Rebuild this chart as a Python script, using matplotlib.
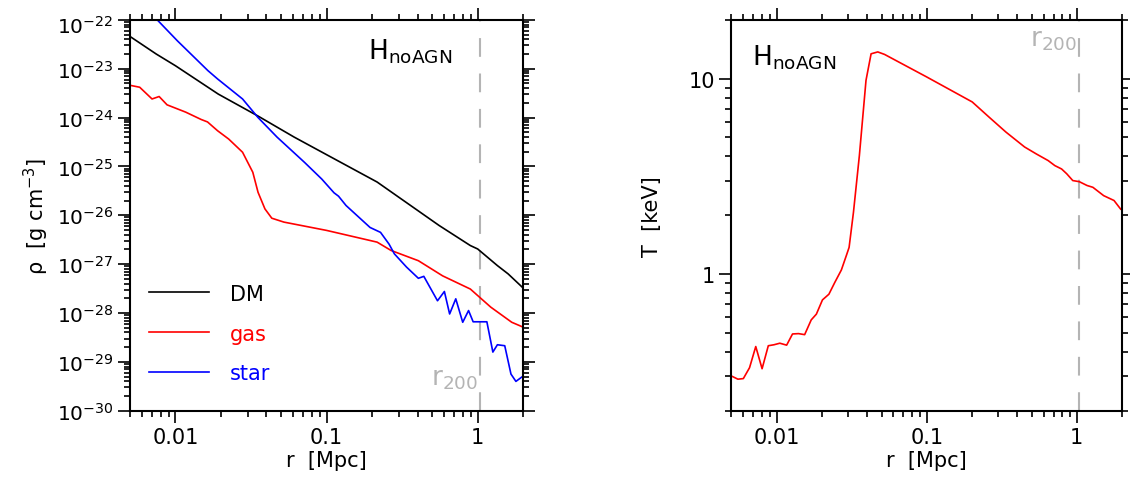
import numpy as np
import matplotlib
matplotlib.use('Agg')
import matplotlib.pyplot as plt
import matplotlib.transforms as mtransforms
from matplotlib.ticker import LogLocator, FixedLocator, FuncFormatter, NullFormatter

plt.rcParams['font.family'] = ['DejaVu Sans']
plt.rcParams['mathtext.default'] = 'regular'

# radios del perfil de densidad [Mpc] y log10(rho) [g cm^-3]
r_dm = [0.005, 0.00746, 0.01, 0.0192, 0.0352, 0.061, 0.1, 0.216, 0.556, 0.894, 1.0, 1.35, 1.59, 2.0]
logrho_dm = [-22.34, -22.70, -22.94, -23.52, -23.97, -24.40, -24.76, -25.32, -26.21, -26.62, -26.69, -27.03, -27.20, -27.49]

r_gas = [0.005, 0.0058, 0.0070, 0.0078, 0.0088, 0.0117, 0.0148, 0.0163, 0.019, 0.0225, 0.0278, 0.0325,
         0.0352, 0.0391, 0.0434, 0.0522, 0.1, 0.216, 0.267, 0.405, 0.586, 0.894, 1.22, 1.68, 2.0]
logrho_gas = [-23.34, -23.38, -23.62, -23.57, -23.74, -23.89, -24.04, -24.09, -24.27, -24.44, -24.71, -25.12,
              -25.53, -25.87, -26.06, -26.14, -26.31, -26.55, -26.72, -26.93, -27.24, -27.51, -27.88, -28.19, -28.29]

r_star = [0.00757, 0.0103, 0.0164, 0.019, 0.0278, 0.0352, 0.047, 0.0716, 0.093, 0.112, 0.12, 0.1345,
          0.194, 0.2275, 0.259, 0.281, 0.338, 0.405, 0.44, 0.542, 0.602, 0.652, 0.716, 0.796, 0.87,
          0.933, 1.15, 1.26, 1.35, 1.51, 1.66, 1.79, 2.0]
logrho_star = [-22.0, -22.43, -23.04, -23.21, -23.62, -24.0, -24.40, -24.92, -25.26, -25.54, -25.61, -25.80,
               -26.25, -26.35, -26.59, -26.79, -27.06, -27.29, -27.25, -27.75, -27.56, -28.02, -27.71, -28.19, -27.95,
               -28.18, -28.18, -28.80, -28.65, -28.67, -29.25, -29.40, -29.29]

# perfil de temperatura [keV]
r_T = [0.005, 0.00552, 0.006, 0.0066, 0.00726, 0.0080, 0.0088, 0.0096, 0.0105, 0.01166, 0.01276, 0.014,
       0.01537, 0.017, 0.0184, 0.0202, 0.0223, 0.0244, 0.027, 0.0292, 0.0304, 0.0325, 0.0356, 0.0394,
       0.0426, 0.0472, 0.0524, 0.1, 0.201, 0.26, 0.337, 0.449, 0.537, 0.644, 0.714, 0.792, 0.857, 0.94,
       1.04, 1.17, 1.28, 1.51, 1.77, 1.96]
T = [0.301, 0.29, 0.292, 0.332, 0.426, 0.328, 0.43, 0.435, 0.443, 0.433, 0.494, 0.496,
     0.49, 0.583, 0.624, 0.738, 0.789, 0.906, 1.05, 1.25, 1.37, 2.07, 4.05, 9.8,
     13.4, 13.7, 13.3, 10.2, 7.6, 6.36, 5.33, 4.47, 4.12, 3.81, 3.59, 3.45, 3.26, 3.01,
     2.97, 2.84, 2.78, 2.52, 2.38, 2.15]

exponentes = [-30, -29, -28, -27, -26, -25, -24, -23, -22]
r200 = 1.03
etiqueta = 'H$_{noAGN}$'
gris = '#b4b4b4'
fs = 15

fig = plt.figure(figsize=(11.3, 4.85), dpi=100)
ax1 = fig.add_axes([0.115, 0.1511, 0.348, 0.806])
ax2 = fig.add_axes([0.6473, 0.1511, 0.3456, 0.806])


def estilo(ax):
    ax.set_xscale('log')
    ax.set_yscale('log')
    ax.set_xlim(0.005, 2)
    for s in ax.spines.values():
        s.set_linewidth(1.5)
    ax.tick_params(which='both', direction='out', top=True, right=True, width=1.2, labelsize=fs)
    ax.tick_params(which='major', length=8.5)
    ax.tick_params(which='minor', length=4)
    ax.xaxis.set_major_locator(FixedLocator([0.01, 0.1, 1]))
    ax.xaxis.set_minor_locator(LogLocator(base=10, subs=np.arange(2, 10), numticks=20))
    ax.xaxis.set_major_formatter(FuncFormatter(lambda v, p: {0.01: '0.01', 0.1: '0.1', 1: '1'}.get(round(v, 3), '')))
    ax.xaxis.set_minor_formatter(NullFormatter())
    ax.set_xlabel('r  [Mpc]', fontsize=fs, labelpad=2)
    ax.axvline(r200, color=gris, lw=1.5, dashes=(9, 8))


# panel izquierdo: densidad
estilo(ax1)
ax1.set_ylim(1e-30, 1e-22)
ax1.plot(r_dm, 10.0 ** np.array(logrho_dm), color='black', lw=1.2, label='DM')
ax1.plot(r_gas, 10.0 ** np.array(logrho_gas), color='red', lw=1.2, label='gas')
ax1.plot(r_star, 10.0 ** np.array(logrho_star), color='blue', lw=1.2, label='star')
ax1.yaxis.set_major_locator(FixedLocator([10.0 ** e for e in exponentes]))
ax1.yaxis.set_major_formatter(FuncFormatter(lambda v, p: '10$^{%d}$' % round(np.log10(v))))
ax1.yaxis.set_minor_locator(LogLocator(base=10, subs=np.arange(2, 10), numticks=20))
ax1.yaxis.set_minor_formatter(NullFormatter())
ax1.tick_params(axis='y', labelsize=14.5)
ax1.set_ylabel(r'$\rho$  [g cm$^{-3}$]', fontsize=fs, labelpad=4)
ax1.text(0.606, 0.92, etiqueta, transform=ax1.transAxes, fontsize=19, va='center')
ax1.text(r200 * 0.97, 10 ** -29.33, 'r$_{200}$', color=gris, fontsize=19, ha='right', va='center')
ax1.legend(loc='lower left', bbox_to_anchor=(0.0, 0.022), frameon=False, fontsize=fs,
           handlelength=2.9, handletextpad=1.0, labelspacing=0.95, labelcolor='linecolor')

# panel derecho: temperatura
estilo(ax2)
ax2.set_ylim(0.2, 20)
ax2.plot(r_T, T, color='red', lw=1.2)
ax2.yaxis.set_major_locator(FixedLocator([1, 10]))
ax2.yaxis.set_major_formatter(FuncFormatter(lambda v, p: '%d' % v))
ax2.yaxis.set_minor_locator(LogLocator(base=10, subs=np.arange(2, 10), numticks=20))
ax2.yaxis.set_minor_formatter(NullFormatter())
ax2.set_ylabel('T  [keV]', fontsize=fs, labelpad=19)
ax2.text(0.052, 0.905, etiqueta, transform=ax2.transAxes, fontsize=19, va='center')
ax2.text(r200 * 0.97, 16.0, 'r$_{200}$', color=gris, fontsize=19, ha='right', va='center')

# bajar un poco la etiqueta superior para que no se corte
fig.canvas.draw()
tick_sup = ax1.yaxis.get_major_ticks()[len(exponentes) - 1]
desp = mtransforms.ScaledTranslation(0, -3 / 72, fig.dpi_scale_trans)
tick_sup.label1.set_transform(tick_sup.label1.get_transform() + desp)

fig.savefig('out.png', dpi=100)
